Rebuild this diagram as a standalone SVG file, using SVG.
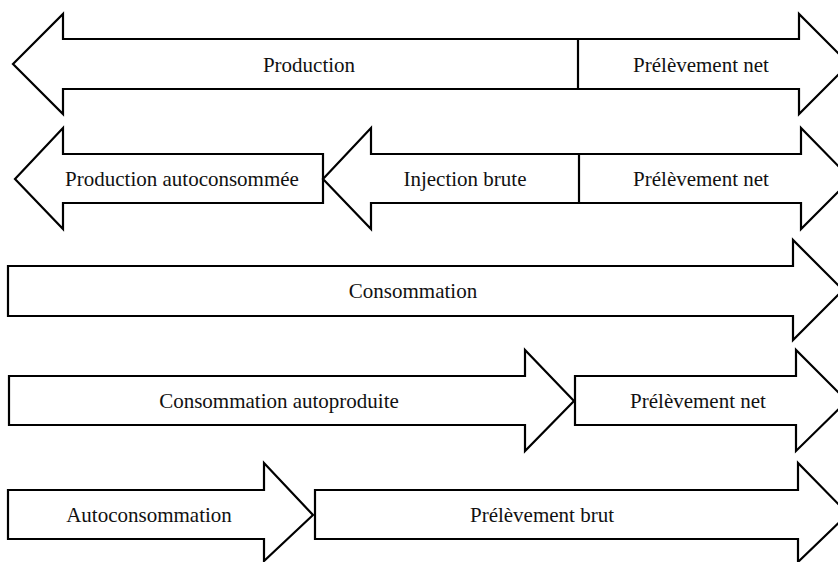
<svg xmlns="http://www.w3.org/2000/svg" width="838" height="562" viewBox="0 0 838 562">
<style>
.a{fill:#fff;stroke:#000;stroke-width:2.2;stroke-linejoin:miter}
.d{fill:none;stroke:#000;stroke-width:2.2}
text{font-family:"Liberation Serif","Times New Roman",serif;font-size:21px;fill:#111;text-anchor:middle}
</style>
<rect width="838" height="562" fill="#fff"/>
<g id="row1">
<path class="a" d="M13,64 L63,14 L63,39 L799,39 L799,14 L849,64 L799,114 L799,89 L63,89 L63,114 Z"/>
<line class="d" x1="578" y1="39" x2="578" y2="89"/>
<text x="309" y="72">Production</text>
<text x="701" y="72">Prélèvement net</text>
</g>
<g id="row2a">
<path class="a" d="M15,179 L63,128 L63,154 L323,154 L323,203 L63,203 L63,229 Z"/>
<text x="182" y="186">Production autoconsommée</text>
</g>
<g id="row2b">
<path class="a" d="M323,179 L371,128 L371,154 L801,154 L801,128 L851,179 L801,229 L801,203 L371,203 L371,229 Z"/>
<line class="d" x1="579" y1="154" x2="579" y2="203"/>
<text x="465" y="186">Injection brute</text>
<text x="701" y="186">Prélèvement net</text>
</g>
<g id="row3">
<path class="a" d="M8,266 L793,266 L793,240 L843,290 L793,340 L793,316 L8,316 Z"/>
<text x="413" y="298">Consommation</text>
</g>
<g id="row4a">
<path class="a" d="M9,376 L525,376 L525,350 L574,401 L525,451 L525,425 L9,425 Z"/>
<text x="279" y="408">Consommation autoproduite</text>
</g>
<g id="row4b">
<path class="a" d="M575,376 L796,376 L796,350 L847,401 L796,451 L796,425 L575,425 Z"/>
<text x="698" y="408">Prélèvement net</text>
</g>
<g id="row5a">
<path class="a" d="M8,490 L264,490 L264,463 L313,515 L264,561 L264,539 L8,539 Z"/>
<text x="149" y="522">Autoconsommation</text>
</g>
<g id="row5b">
<path class="a" d="M315,490 L798,490 L798,463 L848,514 L798,562 L798,539 L315,539 Z"/>
<text x="542" y="522">Prélèvement brut</text>
</g>
</svg>
